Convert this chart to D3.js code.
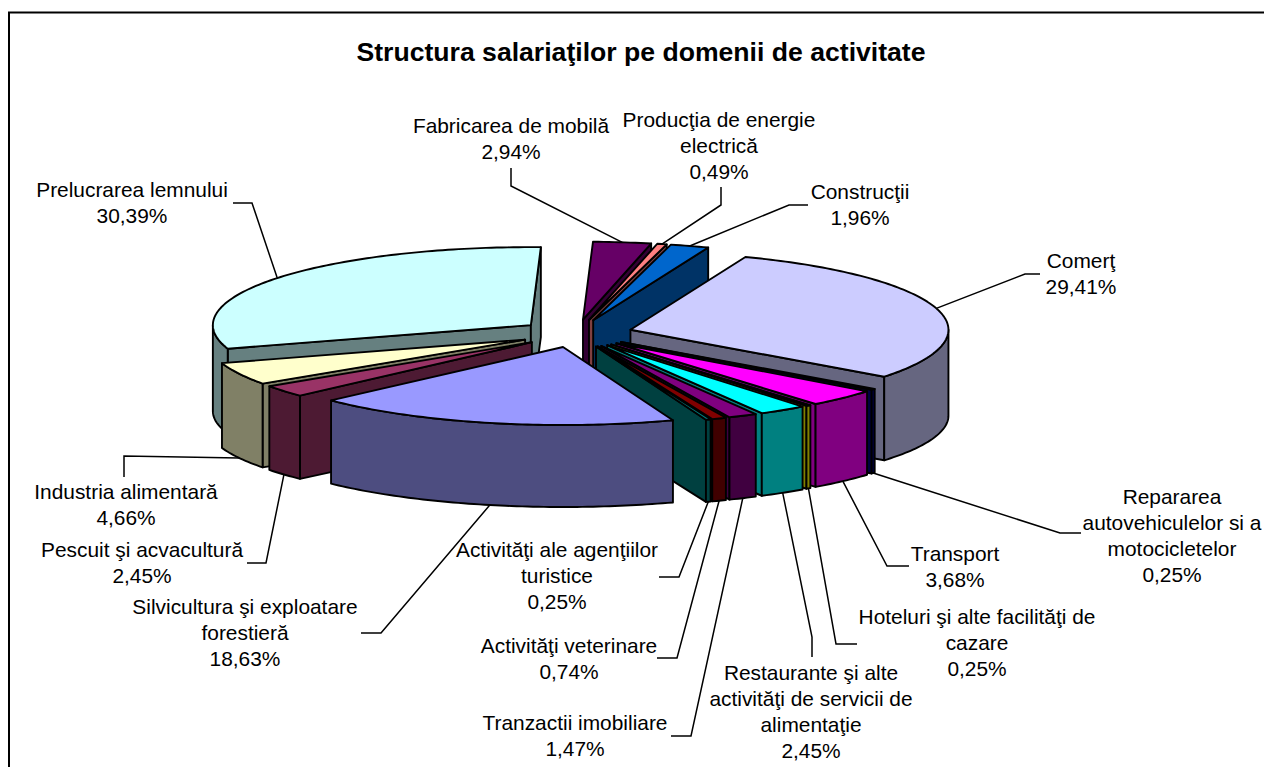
<!DOCTYPE html>
<html>
<head>
<meta charset="utf-8">
<style>
html,body{margin:0;padding:0;background:#fff;overflow:hidden}
text{font-family:"Liberation Sans",Arial,sans-serif;fill:#000}
</style>
<script src="https://cdn.jsdelivr.net/npm/d3@7/dist/d3.min.js"></script>
</head>
<body>
<svg id="c" width="1264" height="767"></svg>
<script>
const title = "Structura salariaţilor pe domenii de activitate";
const categories = [
  ["Comerţ"],
  ["Repararea","autovehiculelor si a","motocicletelor"],
  ["Transport"],
  ["Hoteluri şi alte facilităţi de","cazare"],
  ["Restaurante şi alte","activităţi de servicii de","alimentaţie"],
  ["Tranzactii imobiliare"],
  ["Activităţi veterinare"],
  ["Activităţi ale agenţiilor","turistice"],
  ["Silvicultura şi exploatare","forestieră"],
  ["Pescuit şi acvacultură"],
  ["Industria alimentară"],
  ["Prelucrarea lemnului"],
  ["Fabricarea de mobilă"],
  ["Producţia de energie","electrică"],
  ["Construcţii"]
];
const values = [29.41,0.25,3.68,0.25,2.45,1.47,0.74,0.25,18.63,2.45,4.66,30.39,2.94,0.49,1.96];
const colors = ["#CCCCFF","#000080","#FF00FF","#FFFF00","#00FFFF","#800080","#800000","#008080","#9999FF","#993366","#FFFFCC","#CCFFFF","#660066","#FF8080","#0066CC"];

// layout (not data)
const CX=576, CY=333.5, RX=318, RY=78, EXPLODE=56.6, DEPTH=86, BOTTOM_SHRINK=4;
const START=21.2*Math.PI/180;
const labelX=[1081,1172,955,977,811,575,569,557,245,142,126,132,511,719,860];
const labelY=[261,497,554,617,673,723,646,550,607,550,492,190,126,120,192];
const LINE_H=26;
const elbows=[
  [[1040,274],[1025,274]],
  [[1081,533],[1060,533]],
  [[909,566],[887,566]],
  [[857,644],[836,644]],
  [[812,657],[812,637]],
  [[671,736],[691,736]],
  [[657,658],[677,658]],
  [[659,577],[679,577]],
  [[361,633],[381,633]],
  [[247,563],[266,563]],
  [[124,477],[124,456]],
  [[233,203],[252,203]],
  [[511,168],[511,186]],
  [[721,187],[721,205]],
  [[808,205],[789,205]]
];

const svg=d3.select("#c");
svg.append("rect").attr("x",9).attr("y",12.5).attr("width",1300).attr("height",800)
  .attr("fill","#fff").attr("stroke","#000").attr("stroke-width",2);
svg.append("text").attr("x",641).attr("y",61).attr("text-anchor","middle")
  .attr("font-size",26.6).attr("font-weight","bold").text(title);

const pie=d3.pie().sort(null).startAngle(START).endAngle(START+2*Math.PI);
const slices=pie(values).map((d,i)=>{
  const mid=(d.startAngle+d.endAngle)/2;
  return {i,a0:d.startAngle,a1:d.endAngle,mid,
    cx:CX+EXPLODE*Math.sin(mid),cy:CY-EXPLODE*Math.cos(mid)*RY/RX};
});
const topPt=(s,a)=>[s.cx+RX*Math.sin(a),s.cy-RY*Math.cos(a)];
const botPt=(s,a)=>[s.cx+RX*Math.sin(a),s.cy+DEPTH-(RY-BOTTOM_SHRINK)*Math.cos(a)];
const line=d3.line();
const samples=(a,b)=>{const n=Math.max(2,Math.ceil((b-a)*180/Math.PI));return d3.range(n+1).map(k=>a+(b-a)*k/n);};

const order=slices.slice().sort((p,q)=>Math.cos(q.mid)-Math.cos(p.mid));
const marks=svg.append("g").attr("stroke","#000").attr("stroke-width",1.9).attr("stroke-linejoin","round");
order.forEach(s=>{
  const g=marks.append("g");
  const c=d3.rgb(colors[s.i]);
  const dark=d3.rgb(c.r/2,c.g/2,c.b/2).formatHex();
  const apexT=[s.cx,s.cy], apexB=[s.cx,s.cy+DEPTH];
  if(Math.sin(s.a0)<0) g.append("path").attr("fill",dark).attr("d",line([apexT,topPt(s,s.a0),botPt(s,s.a0),apexB])+"Z");
  if(Math.sin(s.a1)>0) g.append("path").attr("fill",dark).attr("d",line([apexT,topPt(s,s.a1),botPt(s,s.a1),apexB])+"Z");
  const w0=Math.max(s.a0,Math.PI/2), w1=Math.min(s.a1,3*Math.PI/2);
  if(w1>w0){
    const as=samples(w0,w1);
    g.append("path").attr("fill",dark).attr("d",line(as.map(a=>topPt(s,a)).concat(as.slice().reverse().map(a=>botPt(s,a))))+"Z");
  }
  const as=samples(s.a0,s.a1);
  g.append("path").attr("fill",colors[s.i]).attr("d",line([apexT].concat(as.map(a=>topPt(s,a))))+"Z");
});

const leaders=svg.append("g").attr("fill","none").attr("stroke","#000").attr("stroke-width",1.5);
slices.forEach(s=>{
  const anchor=Math.cos(s.mid)<0 ? botPt(s,s.mid) : topPt(s,s.mid);
  leaders.append("path").attr("d",line([...elbows[s.i],anchor]));
});

const labels=svg.append("g").attr("text-anchor","middle").attr("font-size",20.9);
slices.forEach(s=>{
  const lines=[...categories[s.i],values[s.i].toFixed(2).replace(".",",")+"%"];
  lines.forEach((t,k)=>{
    labels.append("text").attr("x",labelX[s.i]).attr("y",labelY[s.i]+k*LINE_H).attr("dy","0.35em").text(t);
  });
});
</script>
</body>
</html>
